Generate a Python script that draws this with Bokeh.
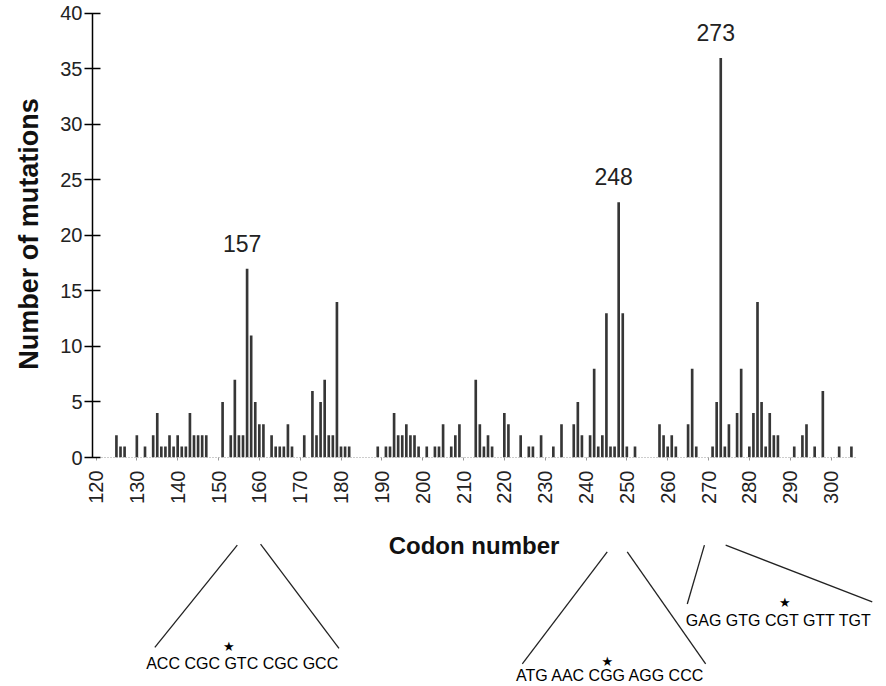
import math
from bokeh.plotting import figure
from bokeh.models import ColumnDataSource, Range1d, FixedTicker, LabelSet
from bokeh.embed import file_html
from bokeh.resources import INLINE
from bokeh.core.properties import value

# ---- data ----
codons = [125, 126, 127, 130, 132, 134, 135, 136, 137, 138, 139, 140, 141, 142,
          143, 144, 145, 146, 147, 151, 153, 154, 155, 156, 157, 158, 159, 160,
          161, 163, 164, 165, 166, 167, 168, 171, 173, 174, 175, 176, 177, 178,
          179, 180, 181, 182, 189, 191, 192, 193, 194, 195, 196, 197, 198, 199,
          201, 203, 204, 205, 207, 208, 209, 213, 214, 215, 216, 217, 220, 221,
          224, 226, 227, 229, 232, 234, 237, 238, 239, 241, 242, 243, 244, 245,
          246, 247, 248, 249, 250, 252, 258, 259, 260, 261, 262, 265, 266, 267,
          271, 272, 273, 274, 275, 277, 278, 280, 281, 282, 283, 284, 285, 286,
          287, 291, 293, 294, 296, 298, 302, 305]
mutations = [2, 1, 1, 2, 1, 2, 4, 1, 1, 2, 1, 2, 1, 1,
             4, 2, 2, 2, 2, 5, 2, 7, 2, 2, 17, 11, 5, 3,
             3, 2, 1, 1, 1, 3, 1, 2, 6, 2, 5, 7, 2, 2,
             14, 1, 1, 1, 1, 1, 1, 4, 2, 2, 3, 2, 2, 1,
             1, 1, 1, 3, 1, 2, 3, 7, 3, 1, 2, 1, 4, 3,
             2, 1, 1, 2, 1, 3, 3, 5, 2, 2, 8, 1, 2, 13,
             1, 1, 23, 13, 1, 1, 3, 2, 1, 2, 1, 3, 8, 1,
             1, 5, 36, 1, 3, 4, 8, 1, 4, 14, 5, 1, 4, 2,
             2, 1, 2, 3, 1, 6, 1, 1]

hotspot_codons = [157, 248, 273]
hotspot_counts = [17, 23, 36]
hotspot_labels = ["157", "248", "273"]

x_ticks = list(range(120, 301, 10))
y_ticks = list(range(0, 41, 5))

# sequence call-outs below the axis
seq_texts = ["ACC CGC GTC CGC GCC", "ATG AAC CGG AGG CCC", "GAG GTG CGT GTT TGT"]
seq_x = [155.8, 246.0, 287.2]          # codon units
seq_drop = [207, 219, 164]             # pixels below the zero line
star_x = [152.5, 245.2, 288.7]
star_drop = [190, 205, 146]
star_texts = ["\u2605", "\u2605", "\u2605"]
wedge_x0 = [154.6, 160.3, 245.2, 250.1, 269.0, 274.2]
wedge_y0 = [-7.9, -7.8, -8.5, -8.5, -7.9, -7.9]
wedge_x1 = [134.4, 179.5, 224.4, 269.3, 264.8, 310.1]
wedge_y1 = [-17.1, -17.2, -18.6, -18.6, -13.2, -13.0]

FONT = "Liberation Sans"

p = figure(width=876, height=684, title=None,
           x_range=Range1d(119.14, 306.0), y_range=Range1d(0, 40.27),
           output_backend="svg", toolbar_location=None,
           min_border_left=92, min_border_right=21,
           min_border_top=10, min_border_bottom=227)
p.outline_line_color = None
p.xgrid.visible = False
p.ygrid.visible = False
p.background_fill_color = "white"

src = ColumnDataSource(dict(codon=codons, count=mutations))
p.vbar(x="codon", top="count", bottom=0, width=0.65, source=src,
       fill_color="#363636", line_color=None)

# y axis
ya = p.yaxis[0]
ya.ticker = FixedTicker(ticks=y_ticks)
ya.bounds = (0, 40)
ya.axis_line_color = "black"
ya.axis_line_width = 1.5
ya.major_tick_in = 8
ya.major_tick_out = 8
ya.major_tick_line_width = 1.3
ya.minor_tick_in = 0
ya.minor_tick_out = 0
ya.major_label_standoff = 2
ya.major_label_text_font = FONT
ya.major_label_text_font_size = "20px"
ya.major_label_text_color = "#222222"
ya.axis_label = "Number of mutations"
ya.axis_label_text_font = FONT
ya.axis_label_text_font_style = "bold"
ya.axis_label_text_font_size = "27px"
ya.axis_label_text_color = "#111111"
ya.axis_label_standoff = 13

# x axis
xa = p.xaxis[0]
xa.ticker = FixedTicker(ticks=x_ticks)
xa.major_label_orientation = math.pi / 2
xa.axis_line_color = "#9a9a9a"
xa.axis_line_dash = "1 2"
xa.major_tick_in = 0
xa.major_tick_out = 3
xa.major_tick_line_color = "#9a9a9a"
xa.minor_tick_in = 0
xa.minor_tick_out = 0
xa.major_label_standoff = 10
xa.major_label_text_font = FONT
xa.major_label_text_font_size = "20px"
xa.major_label_text_color = "#222222"
xa.axis_label = "Codon number"
xa.axis_label_text_font = FONT
xa.axis_label_text_font_style = "bold"
xa.axis_label_text_font_size = "24px"
xa.axis_label_text_color = "#111111"
xa.axis_label_standoff = 25

# hotspot labels
hs = ColumnDataSource(dict(codon=hotspot_codons, count=hotspot_counts, label=hotspot_labels))
p.add_layout(LabelSet(x="codon", y="count", text="label", source=hs,
                      x_offset=-5, y_offset=17, text_align="center",
                      text_baseline="bottom", text_font=value(FONT),
                      text_font_size="23px", text_color="#222222"))

# call-outs below the axis
seg = p.segment(x0=wedge_x0, y0=wedge_y0, x1=wedge_x1, y1=wedge_y1,
                line_color="#222222", line_width=1.3)
seg.level = "overlay"

seq_src = ColumnDataSource(dict(x=seq_x, y=[0.05] * len(seq_x), dy=seq_drop, t=seq_texts))
tr = p.text(x="x", y="y", text="t", y_offset="dy", source=seq_src,
            text_align="center", text_baseline="middle",
            text_font=value(FONT), text_font_size="16px", text_color="#000000")
tr.level = "overlay"

star_src = ColumnDataSource(dict(x=star_x, y=[0.05] * len(star_x), dy=star_drop, t=star_texts))
sr = p.text(x="x", y="y", text="t", y_offset="dy", source=star_src,
            text_align="center", text_baseline="middle",
            text_font=value("DejaVu Sans"), text_font_size="13px", text_color="black")
sr.level = "overlay"

open("out.html", "w").write(file_html(p, INLINE))
